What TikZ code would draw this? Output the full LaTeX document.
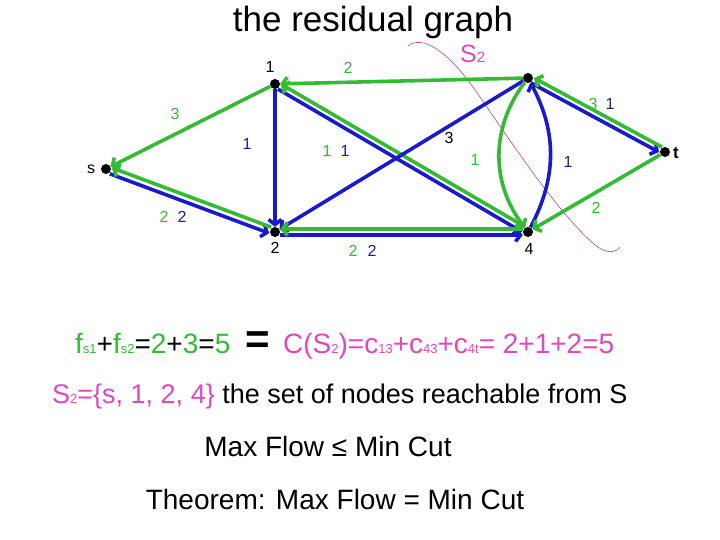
\documentclass[tikz,border=0pt]{standalone}
\usepackage{fontspec}
\setmainfont{Liberation Sans}
\usetikzlibrary{arrows.meta}
\definecolor{resgreen}{RGB}{51,187,51}
\definecolor{flowblue}{RGB}{26,26,204}
\definecolor{lblblue}{RGB}{30,30,140}
\definecolor{cutpink}{RGB}{222,72,192}
\definecolor{cutline}{RGB}{175,70,175}
\newcommand\lsub[1]{{\fontsize{13}{13}\selectfont #1}}
\tikzset{
  dot/.style={circle,fill=black,inner sep=0pt,minimum size=10pt},
  res/.style={resgreen,line width=3.6pt,-{Straight Barb[length=5pt,width=13pt]}},
  flow/.style={flowblue,line width=3.6pt,-{Straight Barb[length=5pt,width=13pt]}},
  lbl/.style={font=\fontsize{16}{16}\selectfont,inner sep=0pt},
  big/.style={font=\fontsize{28}{32}\selectfont,inner sep=0pt,anchor=base west},
}
\begin{document}
\begin{tikzpicture}[x=1pt,y=1pt]
\useasboundingbox[fill=white] (0,0) rectangle (720,-540);
\node[font=\fontsize{35}{40}\selectfont,inner sep=0pt,anchor=base] (title) at (373,-32) {the residual graph};

\draw[cutline,line width=0.6pt] (408,-46) .. controls (420,-36) and (445,-45) .. (480,-97)
  .. controls (515,-148) and (560,-215) .. (595,-245) .. controls (606,-254) and (616,-253) .. (620,-247);
\node[cutpink,font=\fontsize{25}{28}\selectfont,inner sep=0pt,anchor=base west] (cutname) at (460,-63) {S\lsub{\fontsize{15}{15}\selectfont 2}};

\node[dot] (s) at (106,-169) {};
\node[dot] (n1) at (275,-84) {};
\node[dot] (n2) at (275,-232) {};
\node[dot] (n3) at (528,-78) {};
\node[dot] (n4) at (528,-232) {};
\node[dot] (t) at (665,-152) {};

\node[lbl] (ls) at (91,-169) {s};
\node[lbl] (l1) at (270,-67) {1};
\node[lbl] (l2) at (275,-248) {2};
\node[lbl] (l4) at (529,-249) {4};
\node[lbl,font=\bfseries\fontsize{17}{17}\selectfont] (lt) at (676,-153) {t};

\draw[flow,transform canvas={shift={(-1,-3)}}] (s) -- (n2);
\draw[res,transform canvas={shift={(1,3)}}] (n2) -- (s);
\draw[res] (n1) -- (s);
\draw[flow] (n1) -- (n2);
\draw[res] (n3) -- (n1);
\draw[flow,transform canvas={shift={(-1.5,-2.5)}}] (n1) -- (n4);
\draw[res,transform canvas={shift={(1.5,2.5)}}] (n4) -- (n1);
\draw[flow] (n3) -- (n2);
\draw[flow,transform canvas={shift={(0,-3)}}] (n2) -- (n4);
\draw[res,transform canvas={shift={(0,3)}}] (n4) -- (n2);
\draw[flow] (n4) to[bend right=28] (n3);
\draw[res] (n3) to[bend right=37] (n4);
\draw[flow,transform canvas={shift={(-1.5,-2.5)}}] (n3) -- (t);
\draw[res,transform canvas={shift={(1.5,2.5)}}] (t) -- (n3);
\draw[res] (t) -- (n4);

\node[lbl,resgreen] (c1s) at (175,-114) {3};
\node[lbl,resgreen] (r2s) at (164,-217) {2};
\node[lbl,lblblue] (f2s) at (182,-217) {2};
\node[lbl,lblblue] (f12) at (247,-144) {1};
\node[lbl,resgreen] (r31) at (348,-68) {2};
\node[lbl,resgreen] (r41) at (327,-151) {1};
\node[lbl,lblblue] (f14) at (345,-151) {1};
\node[lbl] (c32) at (449,-138) {3};
\node[lbl,resgreen] (r34) at (475,-160) {1};
\node[lbl,lblblue] (f43) at (568,-162) {1};
\node[lbl,resgreen] (r24) at (353,-251) {2};
\node[lbl,lblblue] (f24) at (372,-251) {2};
\node[lbl,resgreen] (rt3) at (593,-104) {3};
\node[lbl,lblblue] (f3t) at (610,-104) {1};
\node[lbl,resgreen] (rt4) at (596,-208) {2};

\node[big] (flowsum) at (75,-353) {\color{resgreen}f\lsub{s1}\color{black}+\color{resgreen}f\lsub{s2}\color{black}=\color{resgreen}2\color{black}+\color{resgreen}3\color{black}=\color{resgreen}5};
\node[font=\bfseries\fontsize{42}{42}\selectfont,inner sep=0pt] (equal) at (258,-343) {=};
\node[big,cutpink] (cutsum) at (283,-353) {C(S\lsub{2})=c\lsub{13}+c\lsub{43}+c\lsub{4t}= 2+1+2=5};
\node[big,font=\fontsize{27}{32}\selectfont] (reach) at (52,-403) {\textcolor{cutpink}{S\lsub{2}=\{s, 1, 2, 4\}} the set of nodes reachable from S};
\node[big,anchor=base] (weak) at (328,-456) {Max Flow ≤ Min Cut};
\node[big,anchor=base] (thm) at (335,-509) {Theorem: Max Flow = Min Cut};
\end{tikzpicture}
\end{document}
